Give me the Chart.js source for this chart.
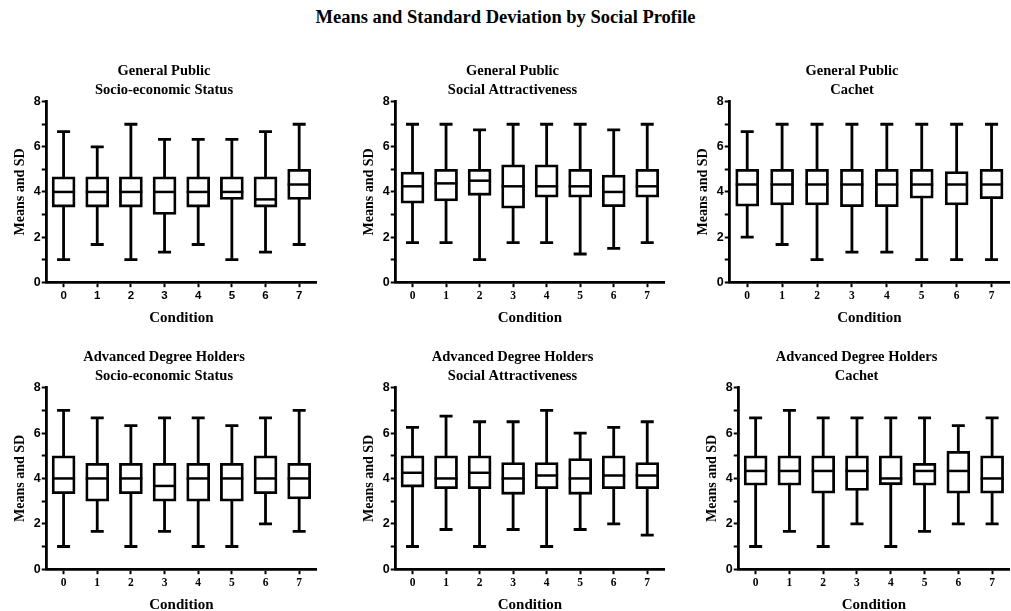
<!DOCTYPE html>
<html>
<head>
<meta charset="utf-8">
<script src="https://cdn.jsdelivr.net/npm/chart.js@4"></script>
<style>
  body { margin: 0; background: #fff; width: 1011px; height: 611px; overflow: hidden; position: relative; }
  #title { position: absolute; top: 7px; left: 0; width: 1011px; text-align: center;
           font: bold 18.5px "Liberation Serif", serif; color: #000; }
  .panel { position: absolute; }
</style>
</head>
<body>
<div id="title">Means and Standard Deviation by Social Profile</div>

<script>
const conditions = ['0', '1', '2', '3', '4', '5', '6', '7'];
const yTicks = [0, 2, 4, 6, 8];

// General Public - Socio-economic Status
const gpSesMax = [6.67, 6.0, 7.0, 6.33, 6.33, 6.33, 6.67, 7.0];
const gpSesQ3  = [4.67, 4.67, 4.67, 4.67, 4.67, 4.67, 4.67, 5.0];
const gpSesMed = [4.0, 4.0, 4.0, 4.0, 4.0, 4.0, 3.67, 4.33];
const gpSesQ1  = [3.33, 3.33, 3.33, 3.0, 3.33, 3.67, 3.33, 3.67];
const gpSesMin = [1.0, 1.67, 1.0, 1.33, 1.67, 1.0, 1.33, 1.67];

// General Public - Social Attractiveness
const gpSaMax = [7.0, 7.0, 6.75, 7.0, 7.0, 7.0, 6.75, 7.0];
const gpSaQ3  = [4.88, 5.0, 5.0, 5.2, 5.2, 5.0, 4.75, 5.0];
const gpSaMed = [4.25, 4.38, 4.5, 4.25, 4.25, 4.25, 4.0, 4.25];
const gpSaQ1  = [3.5, 3.6, 3.85, 3.28, 3.77, 3.77, 3.35, 3.77];
const gpSaMin = [1.75, 1.75, 1.0, 1.75, 1.75, 1.25, 1.5, 1.75];

// General Public - Cachet
const gpCaMax = [6.67, 7.0, 7.0, 7.0, 7.0, 7.0, 7.0, 7.0];
const gpCaQ3  = [5.0, 5.0, 5.0, 5.0, 5.0, 5.0, 4.9, 5.0];
const gpCaMed = [4.33, 4.33, 4.33, 4.33, 4.33, 4.33, 4.33, 4.33];
const gpCaQ1  = [3.37, 3.42, 3.42, 3.35, 3.35, 3.72, 3.42, 3.7];
const gpCaMin = [2.0, 1.67, 1.0, 1.33, 1.33, 1.0, 1.0, 1.0];

// Advanced Degree Holders - Socio-economic Status
const adSesMax = [7.0, 6.67, 6.33, 6.67, 6.67, 6.33, 6.67, 7.0];
const adSesQ3  = [5.0, 4.67, 4.67, 4.67, 4.67, 4.67, 5.0, 4.67];
const adSesMed = [4.0, 4.0, 4.0, 3.67, 4.0, 4.0, 4.0, 4.0];
const adSesQ1  = [3.33, 3.0, 3.33, 3.0, 3.0, 3.0, 3.33, 3.1];
const adSesMin = [1.0, 1.67, 1.0, 1.67, 1.0, 1.0, 2.0, 1.67];

// Advanced Degree Holders - Social Attractiveness
const adSaMax = [6.25, 6.75, 6.5, 6.5, 7.0, 6.0, 6.25, 6.5];
const adSaQ3  = [5.0, 5.0, 5.0, 4.7, 4.7, 4.88, 5.0, 4.7];
const adSaMed = [4.25, 4.0, 4.25, 4.0, 4.13, 4.0, 4.13, 4.13];
const adSaQ1  = [3.62, 3.55, 3.55, 3.3, 3.55, 3.3, 3.55, 3.55];
const adSaMin = [1.0, 1.75, 1.0, 1.75, 1.0, 1.75, 2.0, 1.5];

// Advanced Degree Holders - Cachet
const adCaMax = [6.67, 7.0, 6.67, 6.67, 6.67, 6.67, 6.33, 6.67];
const adCaQ3  = [5.0, 5.0, 5.0, 5.0, 5.0, 4.67, 5.2, 5.0];
const adCaMed = [4.33, 4.33, 4.33, 4.33, 4.0, 4.33, 4.33, 4.0];
const adCaQ1  = [3.7, 3.7, 3.35, 3.47, 3.72, 3.7, 3.35, 3.35];
const adCaMin = [1.0, 1.67, 1.0, 2.0, 1.0, 1.67, 2.0, 2.0];

const SERIF = '"Liberation Serif", "Times New Roman", serif';
const SANS = '"Liberation Sans", Arial, sans-serif';

const panels = [
  { title: ['General Public', 'Socio-economic Status'], max: gpSesMax, q3: gpSesQ3, med: gpSesMed, q1: gpSesQ1, min: gpSesMin,
    left: 0, top: 55, width: 318, height: 272, xFont: SANS },
  { title: ['General Public', 'Social Attractiveness'], max: gpSaMax, q3: gpSaQ3, med: gpSaMed, q1: gpSaQ1, min: gpSaMin,
    left: 349, top: 55, width: 317, height: 272, xFont: SERIF },
  { title: ['General Public', 'Cachet'], max: gpCaMax, q3: gpCaQ3, med: gpCaMed, q1: gpCaQ1, min: gpCaMin,
    left: 683, top: 55, width: 328, height: 272, xFont: SERIF },
  { title: ['Advanced Degree Holders', 'Socio-economic Status'], max: adSesMax, q3: adSesQ3, med: adSesMed, q1: adSesQ1, min: adSesMin,
    left: 0, top: 341, width: 318, height: 273, xFont: SERIF },
  { title: ['Advanced Degree Holders', 'Social Attractiveness'], max: adSaMax, q3: adSaQ3, med: adSaMed, q1: adSaQ1, min: adSaMin,
    left: 349, top: 341, width: 317, height: 273, xFont: SERIF },
  { title: ['Advanced Degree Holders', 'Cachet'], max: adCaMax, q3: adCaQ3, med: adCaMed, q1: adCaQ1, min: adCaMin,
    left: 692, top: 341, width: 319, height: 273, xFont: SERIF }
];

// whiskers behind the boxes, medians on top
const boxWhiskers = {
  id: 'boxWhiskers',
  beforeDatasetsDraw(chart) {
    const p = chart.options.plugins.boxWhiskers.panel;
    const x = chart.scales.x, y = chart.scales.y;
    const ctx = chart.ctx;
    ctx.save();
    ctx.strokeStyle = '#000';
    ctx.lineWidth = 2.8;
    ctx.lineCap = 'butt';
    p.max.forEach((hi, i) => {
      const cx = x.getPixelForValue(i);
      const yHi = y.getPixelForValue(hi), yLo = y.getPixelForValue(p.min[i]);
      ctx.beginPath();
      ctx.moveTo(cx, yHi); ctx.lineTo(cx, yLo);
      ctx.moveTo(cx - 6.5, yHi); ctx.lineTo(cx + 6.5, yHi);
      ctx.moveTo(cx - 6.5, yLo); ctx.lineTo(cx + 6.5, yLo);
      ctx.stroke();
    });
    ctx.restore();
  },
  afterDatasetsDraw(chart) {
    const p = chart.options.plugins.boxWhiskers.panel;
    const x = chart.scales.x, y = chart.scales.y;
    const ctx = chart.ctx;
    const half = 11.5;
    ctx.save();
    ctx.strokeStyle = '#000';
    ctx.lineWidth = 2.5;
    p.med.forEach((m, i) => {
      const cx = x.getPixelForValue(i);
      const ym = y.getPixelForValue(m);
      ctx.beginPath();
      ctx.moveTo(cx - half, ym); ctx.lineTo(cx + half, ym);
      ctx.stroke();
    });
    ctx.restore();
  }
};

panels.forEach(p => {
  const div = document.createElement('div');
  div.className = 'panel';
  div.style.left = p.left + 'px';
  div.style.top = p.top + 'px';
  div.style.width = p.width + 'px';
  div.style.height = p.height + 'px';
  const canvas = document.createElement('canvas');
  div.appendChild(canvas);
  document.body.appendChild(div);

  new Chart(canvas, {
    type: 'bar',
    data: {
      labels: conditions,
      datasets: [{
        data: p.q1.map((lo, i) => [lo, p.q3[i]]),
        backgroundColor: '#fff',
        borderColor: '#000',
        borderWidth: 2.8,
        borderSkipped: false,
        barThickness: 23
      }]
    },
    options: {
      responsive: true,
      maintainAspectRatio: false,
      animation: false,
      layout: { padding: { left: 12, right: 2, top: 0, bottom: 0 } },
      plugins: {
        legend: { display: false },
        tooltip: { enabled: false },
        title: {
          display: true,
          text: p.title,
          color: '#000',
          font: { family: SERIF, weight: 'bold', size: 14.5, lineHeight: 1.3 },
          padding: { top: 6.5, bottom: 2.5 }
        },
        boxWhiskers: { panel: p }
      },
      scales: {
        x: {
          offset: true,
          grid: { display: true, drawOnChartArea: false, offset: false, tickLength: 5, tickWidth: 2, tickColor: '#000' },
          border: { color: '#000', width: 2.8 },
          ticks: { color: '#000', font: { family: p.xFont, weight: 'bold', size: 11.5 }, padding: 2 },
          title: { display: true, text: 'Condition', color: '#000',
                   font: { family: SERIF, weight: 'bold', size: 15 }, padding: { top: 4, bottom: 0 } }
        },
        y: {
          min: 0,
          max: 8,
          afterBuildTicks: axis => { axis.ticks = [0, 1, 2, 3, 4, 5, 6, 7, 8].map(v => ({ value: v })); },
          grid: { display: true, drawOnChartArea: false, tickLength: 5, tickWidth: 2, tickColor: '#000' },
          border: { color: '#000', width: 2.8 },
          ticks: {
            color: '#000',
            font: { family: SANS, weight: 'bold', size: 12.5 },
            padding: 1,
            callback: v => yTicks.includes(v) ? String(v) : ''
          },
          title: { display: true, text: 'Means and SD', color: '#000',
                   font: { family: SERIF, weight: 'bold', size: 14 }, padding: { top: 0, bottom: 4 } }
        }
      }
    },
    plugins: [boxWhiskers]
  });
});
</script>
</body>
</html>
